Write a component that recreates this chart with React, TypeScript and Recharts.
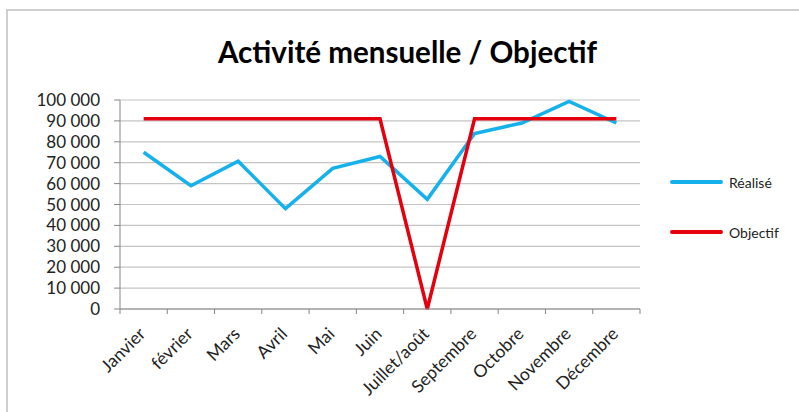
import React from 'react';
import { LineChart, Line, XAxis, YAxis, CartesianGrid } from 'recharts';

const months = [
  'Janvier', 'février', 'Mars', 'Avril', 'Mai', 'Juin',
  'Juillet/août', 'Septembre', 'Octobre', 'Novembre', 'Décembre',
];
const realise = [75000, 59000, 70700, 48000, 67300, 73000, 52500, 84000, 89000, 99300, 89000];
const objectif = [91000, 91000, 91000, 91000, 91000, 91000, 0, 91000, 91000, 91000, 91000];
const yTicks = [0, 10000, 20000, 30000, 40000, 50000, 60000, 70000, 80000, 90000, 100000];

const BLUE = '#14b1ec';
const RED = '#e5000e';
const AXIS = '#868686';
const GRID = '#c4c4c4';
const FONT = 'Lato, "Open Sans", sans-serif';

// plot area: x 120..640, y 100..309
const PLOT_W = 520;
const BAND = PLOT_W / months.length;

const chartData = months.map((m, i) => ({
  month: m,
  realise: realise[i],
  objectif: objectif[i],
}));

const fmt = (v: number) => String(v).replace(/\B(?=(\d{3})+(?!\d))/g, ' ');

const MonthTick = (props: any) => {
  const { x, y, payload, index } = props;
  const ax = x + 3;
  const ay = y + 26;
  return (
    <g>
      <line x1={x - BAND / 2} y1={y} x2={x - BAND / 2} y2={y + 5} stroke={AXIS} />
      {index === months.length - 1 && (
        <line x1={x + BAND / 2} y1={y} x2={x + BAND / 2} y2={y + 5} stroke={AXIS} />
      )}
      <text
        x={ax}
        y={ay}
        textAnchor="end"
        transform={`rotate(-45, ${ax}, ${ay})`}
        fontSize={17.5}
        fontFamily={FONT}
        fill="#222"
      >
        {payload.value}
      </text>
    </g>
  );
};

const legendItems = [
  { label: 'Réalisé', color: BLUE, top: 182 },
  { label: 'Objectif', color: RED, top: 232 },
];

export default function App() {
  return (
    <div style={{ position: 'absolute', left: 0, top: 0, width: 799, height: 412, background: '#fff', overflow: 'hidden' }}>
      <div
        style={{
          position: 'absolute', left: 6, top: 9, width: 800, height: 420,
          borderTop: '2px solid #cfcfcf', borderLeft: '2px solid #cfcfcf',
        }}
      />
      <svg width={799} height={80} style={{ position: 'absolute', left: 0, top: 0 }}>
        <text
          x={407.5}
          y={63}
          textAnchor="middle"
          fontSize={31}
          fontWeight={700}
          fontFamily={FONT}
          textLength={379}
          lengthAdjust="spacingAndGlyphs"
          fill="#000"
        >
          Activité mensuelle / Objectif
        </text>
      </svg>
      <div style={{ position: 'absolute', left: 0, top: 0 }}>
        <LineChart
          width={799}
          height={412}
          data={chartData}
          margin={{ top: 100, right: 159, bottom: 73, left: 0 }}
        >
          <CartesianGrid vertical={false} stroke={GRID} strokeWidth={1.2} />
          <XAxis
            dataKey="month"
            height={30}
            stroke={AXIS}
            tickLine={false}
            tickSize={0}
            tickMargin={0}
            interval={0}
            padding={{ left: BAND / 2, right: BAND / 2 }}
            tick={<MonthTick />}
          />
          <YAxis
            width={120}
            domain={[0, 100000]}
            ticks={yTicks}
            interval={0}
            stroke={AXIS}
            tickSize={6}
            tickMargin={14}
            tickFormatter={fmt}
            tick={{ fontSize: 17, fontFamily: FONT, fill: '#222' }}
          />
          <Line
            type="linear"
            dataKey="realise"
            stroke={BLUE}
            strokeWidth={3.5}
            dot={false}
            isAnimationActive={false}
          />
          <Line
            type="linear"
            dataKey="objectif"
            stroke={RED}
            strokeWidth={3.5}
            dot={false}
            isAnimationActive={false}
          />
        </LineChart>
      </div>
      {legendItems.map((it) => (
        <div
          key={it.label}
          style={{ position: 'absolute', left: 670, top: it.top - 9, height: 18, display: 'flex', alignItems: 'center' }}
        >
          <div style={{ width: 53, height: 4, background: it.color, borderRadius: 2 }} />
          <span style={{ marginLeft: 6, fontSize: 14, fontFamily: FONT, color: '#222' }}>{it.label}</span>
        </div>
      ))}
    </div>
  );
}
